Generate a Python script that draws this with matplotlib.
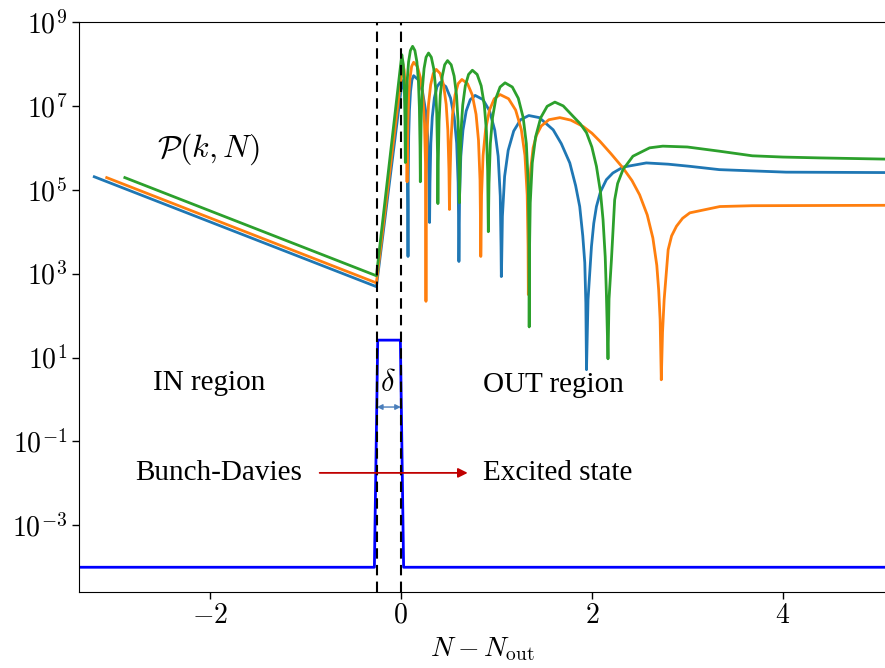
import matplotlib
matplotlib.use('Agg')
import matplotlib.pyplot as plt
import numpy as np

plt.rcParams['mathtext.fontset'] = 'cm'
plt.rcParams['font.family'] = ['Liberation Serif', 'DejaVu Serif']

# ---------------- data (log10 of P(k,N)) ----------------
blue_x = [-3.21, -0.256, 0.015, 0.040, 0.058, 0.068, 0.073, 0.075,
          0.0756, 0.0774, 0.082, 0.090, 0.1016, 0.116, 0.134, 0.184, 0.226, 0.259, 0.281, 0.294, 0.301,
          0.305, 0.314, 0.329, 0.351, 0.379, 0.412, 0.471, 0.520, 0.559, 0.5845, 0.600, 0.606, 0.608,
          0.6097, 0.615, 0.628, 0.6505, 0.6845, 0.727, 0.778, 0.860, 0.929, 0.9835, 1.019, 1.041, 1.049, 1.052,
          1.0549, 1.0635, 1.0866, 1.124, 1.1816, 1.2536, 1.340, 1.45, 1.595, 1.68, 1.769, 1.83, 1.873, 1.905,
          1.926, 1.937, 1.944,
          1.960, 1.996, 2.02, 2.048, 2.09, 2.152, 2.22, 2.326, 2.570, 2.8, 3.022, 3.335, 4.034, 5.10]
blue_logP = [5.31, 2.69, 7.6, 7.35, 6.7, 5.7, 4.6, 3.41,
             4.11, 5.32, 6.27, 6.89, 7.35, 7.62, 7.72, 7.62, 7.35, 6.89, 6.27, 5.32, 4.22,
             5.16, 6.11, 6.73, 7.19, 7.46, 7.56, 7.46, 7.19, 6.73, 6.11, 5.16, 3.95, 3.29,
             3.64, 4.85, 5.80, 6.42, 6.88, 7.15, 7.25, 7.15, 6.88, 6.42, 5.80, 4.85, 3.64, 2.93,
             3.16, 4.37, 5.32, 5.94, 6.40, 6.67, 6.77, 6.72, 6.43, 6.1, 5.64, 5.1, 4.60, 3.9,
             3.26, 2.3, 0.71,
             2.38, 3.65, 4.2, 4.60, 4.95, 5.24, 5.40, 5.54, 5.64, 5.61, 5.56, 5.48, 5.42, 5.41]

orange_x = [-3.08, -0.256, 0.02, 0.035, 0.050, 0.060, 0.065,
            0.068, 0.073, 0.082, 0.096, 0.113, 0.134, 0.173, 0.205, 0.231, 0.2475, 0.258, 0.2617, 0.263,
            0.2641, 0.267, 0.276, 0.290, 0.312, 0.339, 0.371, 0.412, 0.447, 0.4745, 0.492, 0.5035, 0.509,
            0.514, 0.525, 0.5415, 0.5675, 0.600, 0.639, 0.698, 0.748, 0.7875, 0.813, 0.829, 0.835, 0.837,
            0.839, 0.845, 0.861, 0.8875, 0.928, 0.978, 1.039, 1.128, 1.202, 1.261, 1.2995, 1.323, 1.332, 1.335,
            1.340, 1.348, 1.360, 1.385, 1.42, 1.47, 1.55, 1.665, 1.78, 1.908, 2.0, 2.083, 2.2, 2.326,
            2.42, 2.50, 2.58, 2.639, 2.68, 2.70, 2.715, 2.727,
            2.74, 2.757, 2.799, 2.835, 2.886, 2.95, 3.026, 3.34, 3.68, 5.10]
orange_logP = [5.29, 2.78, 8.0, 7.85, 7.3, 6.4, 5.19,
               5.64, 6.59, 7.21, 7.67, 7.94, 8.04, 7.94, 7.67, 7.21, 6.59, 5.64, 4.43, 2.34,
               4.26, 5.47, 6.42, 7.04, 7.50, 7.77, 7.87, 7.77, 7.50, 7.04, 6.42, 5.47, 4.53,
               5.23, 6.18, 6.80, 7.26, 7.53, 7.63, 7.53, 7.26, 6.80, 6.18, 5.23, 4.02, 3.41,
               3.66, 4.87, 5.82, 6.44, 6.90, 7.17, 7.27, 7.17, 6.90, 6.44, 5.82, 4.87, 3.66, 2.5,
               4.3, 5.0, 5.5, 6.0, 6.3, 6.52, 6.67, 6.72, 6.66, 6.51, 6.35, 6.16, 5.86, 5.52,
               5.22, 4.88, 4.4, 3.85, 3.2, 2.6, 1.9, 0.47,
               1.6, 2.38, 3.57, 3.90, 4.13, 4.32, 4.45, 4.60, 4.62, 4.63]

green_x = [-2.89, -0.256, 0.01, 0.025, 0.037, 0.043, 0.047,
           0.050, 0.056, 0.066, 0.081, 0.100, 0.123, 0.147, 0.168, 0.184, 0.194, 0.201, 0.204,
           0.207, 0.214, 0.226, 0.243, 0.264, 0.290, 0.319, 0.344, 0.364, 0.376, 0.384, 0.388,
           0.392, 0.400, 0.413, 0.434, 0.459, 0.489, 0.527, 0.558, 0.583, 0.599, 0.609, 0.614,
           0.619, 0.630, 0.648, 0.675, 0.709, 0.749, 0.799, 0.841, 0.874, 0.896, 0.909, 0.916,
           0.923, 0.937, 0.960, 0.995, 1.039, 1.091, 1.167, 1.230, 1.281, 1.314, 1.334, 1.3415, 1.344,
           1.3467, 1.355, 1.376, 1.411, 1.465, 1.532, 1.613, 1.70, 1.804, 1.88, 1.944, 2.00, 2.048,
           2.09, 2.117, 2.140, 2.152, 2.169,
           2.180, 2.205, 2.239, 2.27, 2.326, 2.430, 2.605, 2.743, 3.0, 3.335, 3.68, 4.0, 4.38, 5.10]
green_logP = [5.29, 2.95, 8.22, 8.0, 7.4, 6.7, 5.65,
              6.02, 6.97, 7.59, 8.05, 8.32, 8.42, 8.32, 8.05, 7.59, 6.97, 6.02, 5.19,
              5.86, 6.81, 7.43, 7.89, 8.16, 8.26, 8.16, 7.89, 7.43, 6.81, 5.86, 4.67,
              5.68, 6.63, 7.25, 7.71, 7.98, 8.08, 7.98, 7.71, 7.25, 6.63, 5.68, 4.69,
              5.45, 6.40, 7.02, 7.48, 7.75, 7.85, 7.75, 7.48, 7.02, 6.40, 5.45, 4.00,
              5.15, 6.10, 6.72, 7.18, 7.45, 7.55, 7.45, 7.18, 6.72, 6.10, 5.15, 3.94, 1.73,
              3.48, 4.69, 5.64, 6.26, 6.72, 6.99, 7.09, 7.00, 6.75, 6.57, 6.36, 6.02, 5.56,
              4.95, 4.29, 3.4, 2.54, 0.97,
              2.4, 3.33, 4.76, 5.15, 5.48, 5.80, 6.00, 6.04, 6.02, 5.92, 5.81, 5.78, 5.76, 5.73]

pulse_x = [-3.5, -0.277, -0.242, -0.005, 0.029, 5.2]
pulse_y = [1e-4, 1e-4, 26.0, 26.0, 1e-4, 1e-4]

boundaries = [-0.25, 0.0]
ytick_vals = [1e-3, 1e-1, 1e1, 1e3, 1e5, 1e7, 1e9]
ytick_labels = [r'$10^{-3}$', r'$10^{-1}$', r'$10^{1}$', r'$10^{3}$',
                r'$10^{5}$', r'$10^{7}$', r'$10^{9}$']
xtick_vals = [-2, 0, 2, 4]
xtick_labels = [r'$-2$', r'$0$', r'$2$', r'$4$']

# ---------------- figure ----------------
W, H = 885, 668
fig = plt.figure(figsize=(W / 100, H / 100), dpi=100)
ax = fig.add_axes([79 / W, (H - 592) / H, 807 / W, 570 / H])
ax.set_yscale('log')

lw = 2.0
ax.plot(blue_x, 10 ** np.array(blue_logP), color='#1f77b4', lw=lw)
ax.plot(orange_x, 10 ** np.array(orange_logP), color='#ff7f0e', lw=lw)
ax.plot(green_x, 10 ** np.array(green_logP), color='#2ca02c', lw=lw)
ax.plot(pulse_x, pulse_y, color='#0000ff', lw=2.0)

for b in boundaries:
    ax.axvline(b, color='black', ls='--', lw=1.5, dashes=(5, 3))

ax.set_xlim(-3.37, 5.08)
ax.set_ylim(10 ** -4.59, 1e9)
ax.set_yticks(ytick_vals)
ax.set_yticklabels(ytick_labels)
ax.yaxis.set_minor_locator(matplotlib.ticker.NullLocator())
ax.set_xticks(xtick_vals)
ax.set_xticklabels(xtick_labels)
ax.tick_params(labelsize=20, length=5, width=1)
ax.set_xlabel(r'$N - N_{\rm out}$', fontsize=20, labelpad=5)

# annotations
ax.text(-2.02, 10 ** 5.96, r'$\mathcal{P}(k,N)$', fontsize=23, ha='center', va='center')
ax.text(-2.01, 10 ** 0.40, 'IN region', fontsize=21, ha='center', va='center')
ax.text(1.60, 10 ** 0.35, 'OUT region', fontsize=21, ha='center', va='center')
ax.text(-1.91, 10 ** -1.75, 'Bunch-Davies', fontsize=21, ha='center', va='center')
ax.text(1.64, 10 ** -1.75, 'Excited state', fontsize=21, ha='center', va='center')
ax.text(-0.135, 10 ** 0.38, r'$\delta$', fontsize=22, ha='center', va='center')

ax.annotate('', xy=(0.0, 10 ** -0.18), xytext=(-0.25, 10 ** -0.18),
            arrowprops=dict(arrowstyle='<|-|>', color='#4a7ebb', lw=1.0,
                            mutation_scale=8, shrinkA=0, shrinkB=0))
ax.annotate('', xy=(0.70, 10 ** -1.75), xytext=(-0.85, 10 ** -1.75),
            arrowprops=dict(arrowstyle='-|>', color='#c00000', lw=1.3,
                            mutation_scale=14, shrinkA=0, shrinkB=0))

fig.savefig('out.png', dpi=100)
